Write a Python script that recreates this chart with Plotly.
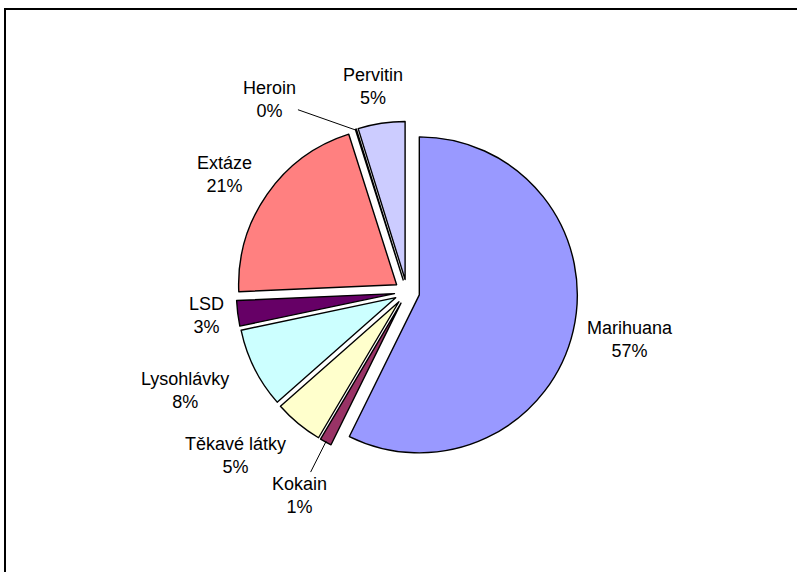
import math
import plotly.graph_objects as go

labels = ["Marihuana", "Kokain", "Těkavé látky", "Lysohlávky", "LSD", "Extáze", "Heroin", "Pervitin"]
values = [57.3, 1.2, 5.0, 8.2, 2.6, 20.8, 0.1, 4.8]
colors = ["#9999FF", "#993366", "#FFFFCC", "#CCFFFF", "#660066", "#FF8080", "#0066CC", "#CCCCFF"]

W, H = 797, 572
cx, cy = 407, 292          # pie centre (pixels)
pull = 0.08
radius = 158
half = radius * (1 + pull)
FS = 18
FONT = "Liberation Sans, Arial, sans-serif"
KX, KY = 1.04, 0.96        # the original's pie is slightly wider than tall: used for label directions
gap = 11

# labels that were moved away from their slice: (angle clockwise from top, distance from centre px, leader line)
moved = {"Heroin": (324.5, 236, True), "Kokain": (208, 230, True),
         "Těkavé látky": (226.5, 237, False), "Lysohlávky": (246, 243, False)}

# approximate Arial advance widths (em) for placing the labels outside the pie
cw = {"M": .833, "K": .667, "T": .611, "L": .556, "S": .667, "D": .722, "E": .667, "H": .722, "P": .667,
      "i": .222, "l": .222, "t": .278, "r": .333, " ": .278, "k": .5, "v": .5, "y": .5, "s": .5,
      "x": .5, "z": .5, "%": .889}


def text_w(s):
    return sum(cw.get(ch, .556) for ch in s) * FS


domain_x = [(cx - 300) / W, (cx + 300) / W]
domain_y = [1 - (cy + half) / H, 1 - (cy - half) / H]
px_c = sum(domain_x) / 2
py_c = sum(domain_y) / 2

fig = go.Figure(go.Pie(
    labels=labels,
    values=values,
    sort=False,
    direction="clockwise",
    rotation=0,
    pull=[pull] * len(labels),
    marker=dict(colors=colors, line=dict(color="black", width=1.4)),
    textinfo="none",
    showlegend=False,
    automargin=False,
    hoverinfo="label+percent",
    domain=dict(x=domain_x, y=domain_y),
))

total = sum(values)
annotations = []
cum = 0.0
for lab, v in zip(labels, values):
    mid = (cum + v / 2) / total * 360
    cum += v
    pct = f"{round(v / total * 100)}%"
    text = f"{lab}<br>{pct}"
    m = math.radians(mid)
    ux, uy = math.sin(m), -math.cos(m)
    if lab in moved:
        ang, d, leader = moved[lab]
        a = math.radians(ang)
        lx, ly = d * math.sin(a), -d * math.cos(a)
        if leader:
            ex = (pull * radius + radius - 1) * ux
            ey = (pull * radius + radius - 1) * uy
            annotations.append(dict(
                x=px_c, y=py_c, xref="paper", yref="paper", text=text,
                xshift=ex, yshift=-ey, ax=lx - ex, ay=ly - ey,
                showarrow=True, arrowhead=0, arrowwidth=1, arrowcolor="black", standoff=0,
                font=dict(family=FONT, size=FS, color="black"),
            ))
            continue
    else:
        ex_, ey_ = ux * KX, uy * KY
        n = math.hypot(ex_, ey_)
        ex_, ey_ = ex_ / n, ey_ / n
        hw = max(text_w(lab), text_w(pct)) / 2
        hh = 22
        ext = abs(ex_) * hw + abs(ey_) * hh
        d = radius * (1 + pull) + gap + ext
        lx, ly = d * ex_, d * ey_
    annotations.append(dict(
        x=px_c, y=py_c, xref="paper", yref="paper", text=text,
        xshift=lx, yshift=-ly, showarrow=False,
        xanchor="center", yanchor="middle",
        font=dict(family=FONT, size=FS, color="black"),
    ))

fig.update_layout(
    width=W, height=H,
    autosize=False,
    margin=dict(l=0, r=0, t=0, b=0, autoexpand=False),
    paper_bgcolor="white",
    plot_bgcolor="white",
    annotations=annotations,
    shapes=[
        dict(type="line", xref="paper", yref="paper", x0=4 / W, x1=1, y0=1 - 9 / H, y1=1 - 9 / H,
             line=dict(color="black", width=2)),
        dict(type="line", xref="paper", yref="paper", x0=5 / W, x1=5 / W, y0=0, y1=1 - 8 / H,
             line=dict(color="black", width=2)),
    ],
)

fig.write_html("out.html", config={"displayModeBar": False},
               post_script="document.body.style.margin='0px';document.body.style.overflow='hidden';")
